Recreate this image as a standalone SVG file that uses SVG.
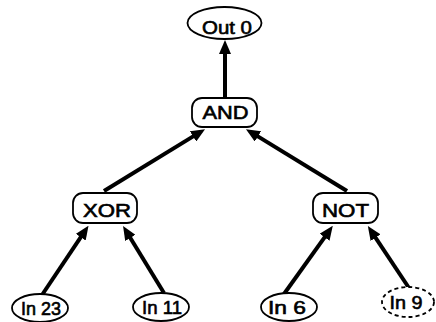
<svg xmlns="http://www.w3.org/2000/svg" width="436" height="322" viewBox="0 0 436 322">
<style>
.shape{fill:#fff;stroke:#000;stroke-width:1.8}
.dash{stroke-dasharray:4 3}
.lbl{font-family:"Liberation Sans",Arial,sans-serif;font-size:18px;fill:#000;stroke:#000;stroke-width:0.6;text-anchor:middle}
.edge{stroke:#000;stroke-width:4;fill:none;marker-end:url(#ah)}
</style>
<defs>
<marker id="ah" viewBox="0 0 14 12" refX="2" refY="6" markerWidth="14" markerHeight="12" markerUnits="userSpaceOnUse" orient="auto">
<path d="M0,0 L14,6 L0,12 Z" fill="#000"/>
</marker>
</defs>
<rect width="436" height="322" fill="#fff"/>
<g id="connectors">
<line class="edge" x1="225" y1="98" x2="225" y2="52"/>
<line class="edge" x1="104" y1="191" x2="194.8" y2="135.4"/>
<line class="edge" x1="347" y1="191" x2="256.2" y2="135.4"/>
<line class="edge" x1="42" y1="295" x2="81.8" y2="235.6"/>
<line class="edge" x1="164" y1="293" x2="129.3" y2="236.2"/>
<line class="edge" x1="284" y1="294" x2="325.8" y2="235.6"/>
<line class="edge" x1="409" y1="288" x2="374.5" y2="236.1"/>
</g>
<g id="out0">
<ellipse class="shape" cx="224.5" cy="23" rx="37" ry="16"/>
<text class="lbl" x="227" y="34" textLength="50" lengthAdjust="spacingAndGlyphs">Out 0</text>
</g>
<g id="and">
<rect class="shape" x="192" y="98" width="65" height="29" rx="10"/>
<text class="lbl" x="225.5" y="119" textLength="46" lengthAdjust="spacingAndGlyphs">AND</text>
</g>
<g id="xor">
<rect class="shape" x="73" y="193" width="64" height="30" rx="10"/>
<text class="lbl" x="107" y="217" textLength="48" lengthAdjust="spacingAndGlyphs">XOR</text>
</g>
<g id="not">
<rect class="shape" x="313" y="193" width="65" height="30" rx="10"/>
<text class="lbl" x="345.5" y="217" textLength="47" lengthAdjust="spacingAndGlyphs">NOT</text>
</g>
<g id="in23">
<ellipse class="shape" cx="40" cy="308" rx="28" ry="14"/>
<text class="lbl" x="41" y="315" textLength="40" lengthAdjust="spacingAndGlyphs">In 23</text>
</g>
<g id="in11">
<ellipse class="shape" cx="161" cy="307" rx="28" ry="14"/>
<text class="lbl" x="162" y="314" textLength="40" lengthAdjust="spacingAndGlyphs">In 11</text>
</g>
<g id="in6">
<ellipse class="shape" cx="289" cy="307" rx="28" ry="14"/>
<text class="lbl" x="287" y="314" textLength="38" lengthAdjust="spacingAndGlyphs">In 6</text>
</g>
<g id="in9">
<ellipse class="shape dash" cx="408" cy="302" rx="26" ry="15"/>
<text class="lbl" x="406" y="309" textLength="33" lengthAdjust="spacingAndGlyphs">In 9</text>
</g>
</svg>
